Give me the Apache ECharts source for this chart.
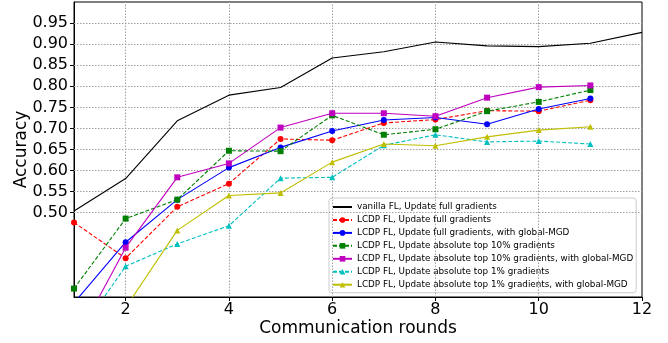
<!DOCTYPE html>
<html><head><meta charset="utf-8">
<script src="https://cdn.jsdelivr.net/npm/echarts@6/dist/echarts.min.js"></script>
<style>html,body{margin:0;padding:0;background:#fff}#c{width:668px;height:343px}</style>
</head><body><div id="c"></div>
<script>
const xValues = [1,2,3,4,5,6,7,8,9,10,11,12];
const xTicks = [2,4,6,8,10,12];
const yTicks = [0.50,0.55,0.60,0.65,0.70,0.75,0.80,0.85,0.90,0.95];
const seriesNames = [
  'vanilla FL, Update full gradients',
  'LCDP FL, Update full gradients',
  'LCDP FL, Update full gradients, with global-MGD',
  'LCDP FL, Update absolute top 10% gradients',
  'LCDP FL, Update absolute top 10% gradients, with global-MGD',
  'LCDP FL, Update absolute top 1% gradients',
  'LCDP FL, Update absolute top 1% gradients, with global-MGD'
];
const vanilla    = [0.504,0.581,0.718,0.779,0.797,0.867,0.882,0.905,0.896,0.894,0.902,0.928];
const lcdpFull   = [0.477,0.392,0.514,0.569,0.675,0.672,0.713,0.721,0.742,0.741,0.767];
const lcdpFullMGD= [0.286,0.430,0.531,0.607,0.655,0.694,0.720,0.726,0.710,0.746,0.771];
const top10      = [0.320,0.486,0.531,0.647,0.646,0.731,0.685,0.698,0.741,0.763,0.791];
const top10MGD   = [0.189,0.417,0.584,0.617,0.702,0.736,0.736,0.729,0.773,0.798,0.802];
const top1       = [0.197,0.373,0.426,0.469,0.582,0.584,0.660,0.685,0.668,0.670,0.663];
const top1MGD    = [0.200,0.275,0.458,0.541,0.547,0.620,0.663,0.659,0.680,0.696,0.704];

const styles = [
  {color:'#000000', dash:'solid', symbol:'none'},
  {color:'#ff0000', dash:[4,2], symbol:'circle'},
  {color:'#0000ff', dash:'solid', symbol:'circle'},
  {color:'#008000', dash:[4,2], symbol:'rect'},
  {color:'#bf00bf', dash:'solid', symbol:'rect'},
  {color:'#00bfbf', dash:[4,2], symbol:'triangle'},
  {color:'#bfbf00', dash:'solid', symbol:'triangle'}
];
const allData = [vanilla, lcdpFull, lcdpFullMGD, top10, top10MGD, top1, top1MGD];

const gridStyle = {color:'#a0a0a0', type:[1.5,1.5], width:1};
const series = [{
  type:'line', name:'_grid', data:[], silent:true, z:1,
  markLine:{
    silent:true, symbol:'none', label:{show:false}, animation:false,
    lineStyle:gridStyle, emphasis:{disabled:true},
    data: yTicks.map(v=>({yAxis:v})).concat(xTicks.slice(0,-1).map(v=>({xAxis:v})))
  }
}];
allData.forEach((arr,i)=>{
  const s = styles[i];
  series.push({
    type:'line', name:seriesNames[i], z:5+i,
    data: arr.map((v,j)=>[xValues[j], v]),
    symbol: s.symbol, symbolSize: 6, showSymbol: s.symbol!=='none',
    lineStyle:{color:s.color, width:1.1, type:s.dash},
    itemStyle:{color:s.color},
    emphasis:{disabled:true},
    animation:false
  });
});

const legendData = seriesNames.map((n,i)=> styles[i].symbol==='none'
  ? {name:n, itemStyle:{opacity:0}} : {name:n});

const chart = echarts.init(document.getElementById('c'));
chart.setOption({
  animation:false,
  grid:{left:74, right:26, top:2, bottom:46, show:true, borderColor:'#000', borderWidth:1,
        backgroundColor:'transparent', containLabel:false, outerBoundsMode:'none'},
  xAxis:{
    type:'value', min:1, max:12,
    name:'Communication rounds', nameLocation:'middle', nameGap:23, nameMoveOverlap:false,
    nameTextStyle:{fontFamily:'DejaVu Sans', fontSize:17, color:'#000'},
    axisLine:{lineStyle:{color:'#000'}},
    axisTick:{show:true, length:4, customValues:xTicks, lineStyle:{color:'#000'}},
    axisLabel:{customValues:xTicks, fontFamily:'DejaVu Sans', fontSize:16, color:'#000', margin:5},
    splitLine:{show:false}
  },
  yAxis:{
    type:'value', min:0.3, max:1.0,
    name:'Accuracy', nameLocation:'middle', nameGap:44, nameMoveOverlap:false,
    nameTextStyle:{fontFamily:'DejaVu Sans', fontSize:17, color:'#000'},
    axisLine:{show:true, lineStyle:{color:'#000'}},
    axisTick:{show:true, length:4, customValues:yTicks, lineStyle:{color:'#000'}},
    axisLabel:{customValues:yTicks, formatter:v=>v.toFixed(2), fontFamily:'DejaVu Sans', fontSize:16, color:'#000', margin:6},
    splitLine:{show:false}
  },
  legend:{
    data: legendData, orient:'vertical', left:329, top:198,
    backgroundColor:'rgba(255,255,255,0.85)', borderColor:'#cccccc', borderWidth:1, borderRadius:3,
    padding:[3,3,2,3], itemWidth:19, itemHeight:7, itemGap:0.95,
    textStyle:{fontFamily:'DejaVu Sans', fontSize:8.8, color:'#000', lineHeight:12}
  },
  series: series
});
</script></body></html>
